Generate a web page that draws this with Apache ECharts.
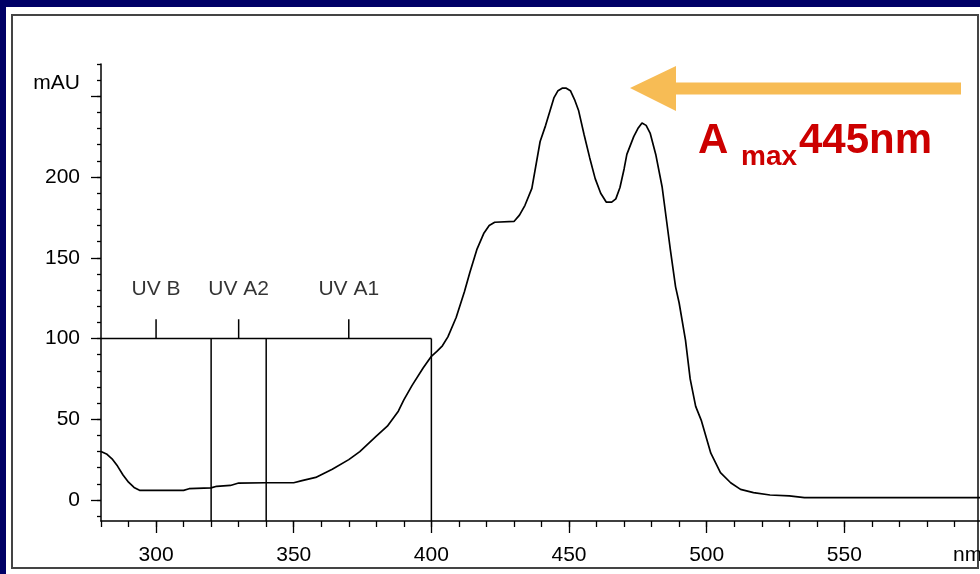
<!DOCTYPE html>
<html>
<head>
<meta charset="utf-8">
<script src="https://cdn.jsdelivr.net/npm/echarts@6/dist/echarts.min.js"></script>
<style>
html,body{margin:0;padding:0;background:#000066;}
#chart{width:980px;height:574px;}
</style>
</head>
<body>
<div id="chart"></div>
<script>
// Spectrum: wavelength (nm) and absorbance (mAU)
const wavelengths = [280,282,284,286,288,290,292,294,300,310,312,320,322,327,330,340,350,353,358,364,370,374,380,384,388,390,393,397,400,402,404,406,409,412,414,416.5,419,421,423,430,432,434,436.5,439.5,441.5,444.5,446,447.5,449,450.5,452,453.5,455.5,457.5,459.5,461.5,463.5,465.5,467,468.5,470,471,473.5,475,476.5,478,479.5,481.5,483.8,485.5,486.8,488.7,490,492.3,494,496,498,501.5,505,508.7,512.3,517,523,530,535.5,600];
const absorbance = [30,28.5,25.5,21,15.5,11,7.8,6,6,6,7,7.5,8.5,9,10.5,10.7,10.7,12,14,19,25,30,39.5,45.7,55,62,71,81.7,89,92,95.5,101,113,129,141,155,165,170,172,172.5,176.4,182.5,193,222,232,249,253.5,255,255,253.5,248,241,226,212,199,190,184.5,184.5,186.5,193.5,205,214,225,230,233.5,232,227,214,194,172,155,132,122,99,75,58,49.5,29,17,10.7,6.6,4.6,3.1,2.5,1.5,1.5];

// UV region box
const uvEdges = [280, 320, 340, 400];
const uvTop = 100;
const uvTickTop = 112;
const uvLabels = ['UV B', 'UV A2', 'UV A1'];
const uvLabelX = [300, 330, 370];
const uvLabelY = 130.6;

// Axis ticks and labels
const xMin = 280, xMax = 600;
const yMin = -13, yMax = 270;
const xMajorTicks = [300, 350, 400, 450, 500, 550];
const xMinorTicks = [280,290,300,310,320,330,340,350,360,370,380,390,400,410,420,430,440,450,460,470,480,490,500,510,520,530,540,550,560,570,580,590,600];
const yMajorTicks = [0, 50, 100, 150, 200, 250];
const yLabelValues = [0, 50, 100, 150, 200];
const yMinorTicks = [-10,0,10,20,30,40,50,60,70,80,90,100,110,120,130,140,150,160,170,180,190,200,210,220,230,240,250,260,270];
const xUnit = 'nm';
const yUnit = 'mAU';
const annotationMain = 'A';
const annotationSub = 'max';
const annotationValue = '445nm';

const FONT = 'Liberation Sans, Arial, sans-serif';
const INK = '#000';
const lineStyle = {color: INK, width: 1.5};

function seg(p1, p2) {
  return {
    type: 'line', xAxisIndex: 0, yAxisIndex: 0,
    data: [p1, p2], symbol: 'none', silent: true,
    lineStyle: lineStyle, z: 3
  };
}

const series = [];
series.push({
  type: 'line', name: 'spectrum', xAxisIndex: 0, yAxisIndex: 0,
  data: wavelengths.map((w, i) => [w, absorbance[i]]),
  symbol: 'none', smooth: false,
  lineStyle: {color: INK, width: 1.7}, z: 4
});
// box top
series.push(seg([uvEdges[0], uvTop], [uvEdges[uvEdges.length - 1], uvTop]));
// verticals
for (let i = 1; i < uvEdges.length; i++) {
  series.push(seg([uvEdges[i], uvTop], [uvEdges[i], yMin]));
}
// ticks above the box
uvLabelX.forEach(x => series.push(seg([x, uvTop], [x, uvTickTop])));
// band labels
series.push({
  type: 'scatter', xAxisIndex: 0, yAxisIndex: 0,
  data: uvLabelX.map((x, i) => ({value: [x, uvLabelY], name: uvLabels[i]})),
  symbolSize: 0, itemStyle: {color: 'rgba(0,0,0,0)'},
  label: {show: true, position: 'inside', formatter: p => p.name,
          color: INK, fontFamily: FONT, fontSize: 21},
  silent: true, z: 5
});

const option = {
  animation: false,
  backgroundColor: '#000066',
  grid: {left: 101, top: 64, width: 881, height: 457, containLabel: false, outerBoundsMode: 'none'},
  xAxis: [
    {
      type: 'value', min: xMin, max: xMax, position: 'bottom',
      axisLine: {show: true, onZero: false, lineStyle: {color: INK, width: 1.5}},
      axisTick: {show: true, customValues: xMinorTicks, length: 6, lineStyle: {color: INK, width: 1.3}},
      axisLabel: {show: false},
      splitLine: {show: false}
    },
    {
      type: 'value', min: xMin, max: xMax, position: 'bottom',
      axisLine: {show: false, onZero: false},
      axisTick: {show: true, customValues: xMajorTicks, length: 12, lineStyle: {color: INK, width: 1.3}},
      axisLabel: {show: true, customValues: xMajorTicks, margin: 24, color: INK, fontFamily: FONT, fontSize: 21},
      splitLine: {show: false},
      name: xUnit, nameLocation: 'end', nameGap: -29, nameMoveOverlap: false,
      nameTextStyle: {color: INK, fontFamily: FONT, fontSize: 21, align: 'left', verticalAlign: 'top', padding: [24, 0, 0, 0]}
    }
  ],
  yAxis: [
    {
      type: 'value', min: yMin, max: yMax, position: 'left',
      axisLine: {show: true, onZero: false, lineStyle: {color: INK, width: 1.5}},
      axisTick: {show: true, customValues: yMinorTicks, length: 4, lineStyle: {color: INK, width: 1.3}},
      axisLabel: {show: false},
      splitLine: {show: false}
    },
    {
      type: 'value', min: yMin, max: yMax, position: 'left',
      axisLine: {show: false, onZero: false},
      axisTick: {show: true, customValues: yMajorTicks, length: 10, lineStyle: {color: INK, width: 1.3}},
      axisLabel: {show: true, customValues: yLabelValues, margin: 21, color: INK, fontFamily: FONT, fontSize: 21},
      splitLine: {show: false},
      name: yUnit, nameLocation: 'end', nameGap: -19, nameMoveOverlap: false,
      nameTextStyle: {color: INK, fontFamily: FONT, fontSize: 21, align: 'right', verticalAlign: 'middle', padding: [0, 21, 0, 0]}
    }
  ],
  graphic: [
    {type: 'rect', z: -10, silent: true, shape: {x: 6, y: 7, width: 980, height: 580}, style: {fill: '#ffffff'}},
    {type: 'rect', z: -9, silent: true, shape: {x: 12, y: 15, width: 966, height: 553}, style: {fill: '#ffffff', stroke: '#444', lineWidth: 2}},
    {type: 'polygon', z: 10, silent: true,
     shape: {points: [[630, 88], [676, 66], [676, 82.5], [961, 82.5], [961, 94.5], [676, 94.5], [676, 111]]},
     style: {fill: '#F7BC55'}},
    {type: 'text', z: 10, silent: true, x: 698, y: 141.4,
     style: {text: annotationMain, fill: '#CC0000', font: 'bold 42px ' + FONT, align: 'left', verticalAlign: 'middle'}},
    {type: 'text', z: 10, silent: true, x: 741, y: 157.3,
     style: {text: annotationSub, fill: '#CC0000', font: 'bold 28px ' + FONT, align: 'left', verticalAlign: 'middle'}},
    {type: 'text', z: 10, silent: true, x: 799, y: 141.4,
     style: {text: annotationValue, fill: '#CC0000', font: 'bold 42px ' + FONT, align: 'left', verticalAlign: 'middle'}}
  ],
  series: series
};

const chart = echarts.init(document.getElementById('chart'), null, {renderer: 'canvas'});
chart.setOption(option);
</script>
</body>
</html>
